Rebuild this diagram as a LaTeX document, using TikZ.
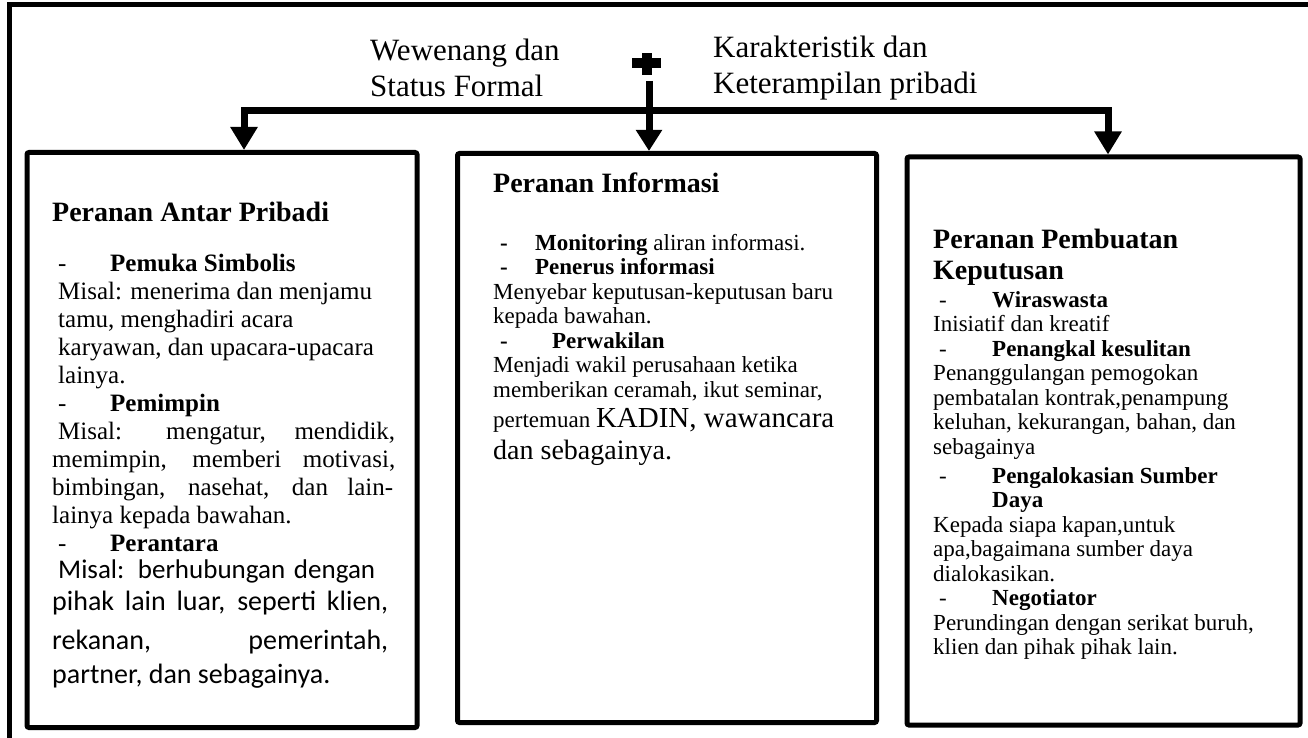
\documentclass[tikz,border=0pt]{standalone}
\usepackage{fontspec}
\setmainfont{Liberation Serif}
\newfontfamily\calibri{Carlito}
\usepackage{tikz}
\usetikzlibrary{arrows.meta,positioning,calc}

\newcommand{\rolehead}[1]{{\fontsize{28}{31}\selectfont\bfseries #1}}
\newcommand{\point}[3]{\hspace*{#1}\makebox[#2][l]{-}\textbf{#3}}
\newcommand{\bpoint}[3]{\hspace*{#1}\makebox[#2][l]{\textbf{-}}\textbf{#3}}
\newcommand{\sans}{\calibri\fontsize{28}{32}\selectfont}

\begin{document}
\begin{tikzpicture}[x=1pt, y=-1pt,
  rolebox/.style={draw, line width=5pt, rounded corners=2pt, inner sep=0pt},
  pipe/.style={line width=7pt},
  txt/.style={anchor=north west, align=left, inner sep=0pt},
  toptext/.style={txt, font=\fontsize{31}{36}\selectfont}]
\useasboundingbox (0,0) rectangle (1308,738);
% frame round the figure, cut off at right and bottom
\draw[line width=5pt] (1314,4.5) -- (9.5,4.5) -- (9.5,744);

% the three roles
\node[rolebox, minimum width=390pt, minimum height=575pt] (pribadi) at (222,440) {};
\node[rolebox, minimum width=419pt, minimum height=569pt] (informasi) at (667,438) {};
\node[rolebox, minimum width=393pt, minimum height=568pt] (keputusan) at (1103.5,441) {};

% sources
\node[toptext] (wewenang) at (370,39) {Wewenang dan\\Status Formal};
\node[toptext] (karakter) at (713,36) {Karakteristik dan\\Keterampilan pribadi};
\fill (632,58) rectangle (661,68);
\fill (642,53) rectangle (652,75);

\coordinate (junL) at (244,111);
\coordinate (junR) at (1108,111);
\coordinate (stem) at (649,81);
\draw[pipe, {Triangle[length=23pt,width=26pt]}-{Triangle[length=23pt,width=26pt]}]
  (junL |- pribadi.north) -- (junL) -- (junR) -- (junR |- keputusan.north);
\draw[pipe, -{Triangle[length=21pt,width=25pt]}] (stem) -- (stem |- informasi.north);

% box texts
\node[txt, font=\fontsize{25}{28}\selectfont] (pribadiTxt) at (52,202) {%
  \rolehead{Peranan Antar Pribadi}\\[22pt]
  \point{6pt}{52pt}{Pemuka Simbolis}\\
  \hspace*{6pt}Misal: menerima dan menjamu\\
  \hspace*{6pt}tamu, menghadiri acara\\
  \hspace*{6pt}karyawan, dan upacara-upacara\\
  \hspace*{6pt}lainya.\\
  \point{6pt}{52pt}{Pemimpin}\\
  \hspace*{6pt}\makebox[337pt][s]{Misal: mengatur, mendidik,}\\
  \makebox[343pt][s]{memimpin, memberi motivasi,}\\
  \makebox[341pt][s]{bimbingan, nasehat, dan lain-}\\
  lainya kepada bawahan.\\
  \point{6pt}{52pt}{Perantara}\\[-1pt]
  {\sans\fontsize{27}{32}\selectfont\hspace*{6pt}\makebox[317pt][s]{Misal: berhubungan dengan}}\\[4pt]
  {\sans\makebox[336pt][s]{pihak lain luar, seperti klien,}}\\[11pt]
  {\sans\makebox[336pt][s]{rekanan, pemerintah,}}\\[6pt]
  {\sans partner, dan sebagainya.}};

\node[txt, font=\fontsize{23}{24.5}\selectfont] (informasiTxt) at (493,173) {%
  \rolehead{Peranan Informasi}\\[33pt]
  \bpoint{7pt}{35pt}{Monitoring} aliran informasi.\\
  \bpoint{7pt}{35pt}{Penerus informasi}\\
  Menyebar keputusan-keputusan baru\\
  kepada bawahan.\\
  \bpoint{7pt}{52pt}{Perwakilan}\\
  Menjadi wakil perusahaan ketika\\
  memberikan ceramah, ikut seminar,\\[6pt]
  pertemuan {\fontsize{29}{32}\selectfont KADIN, wawancara}\\[7.5pt]
  {\fontsize{28}{32}\selectfont dan sebagainya.}};

\node[txt, font=\fontsize{23}{24.5}\selectfont] (keputusanTxt) at (933,229) {%
  \rolehead{Peranan Pembuatan}\\[6.5pt]
  \rolehead{Keputusan}\\[3pt]
  \point{6pt}{53pt}{Wiraswasta}\\
  Inisiatif dan kreatif\\
  \point{6pt}{53pt}{Penangkal kesulitan}\\
  Penanggulangan pemogokan\\
  pembatalan kontrak,penampung\\
  keluhan, kekurangan, bahan, dan\\
  sebagainya\\[4.5pt]
  \point{6pt}{53pt}{Pengalokasian Sumber}\\
  \hspace*{59pt}\textbf{Daya}\\
  Kepada siapa kapan,untuk\\
  apa,bagaimana sumber daya\\
  dialokasikan.\\
  \point{6pt}{53pt}{Negotiator}\\
  Perundingan dengan serikat buruh,\\
  klien dan pihak pihak lain.};
\end{tikzpicture}
\end{document}
